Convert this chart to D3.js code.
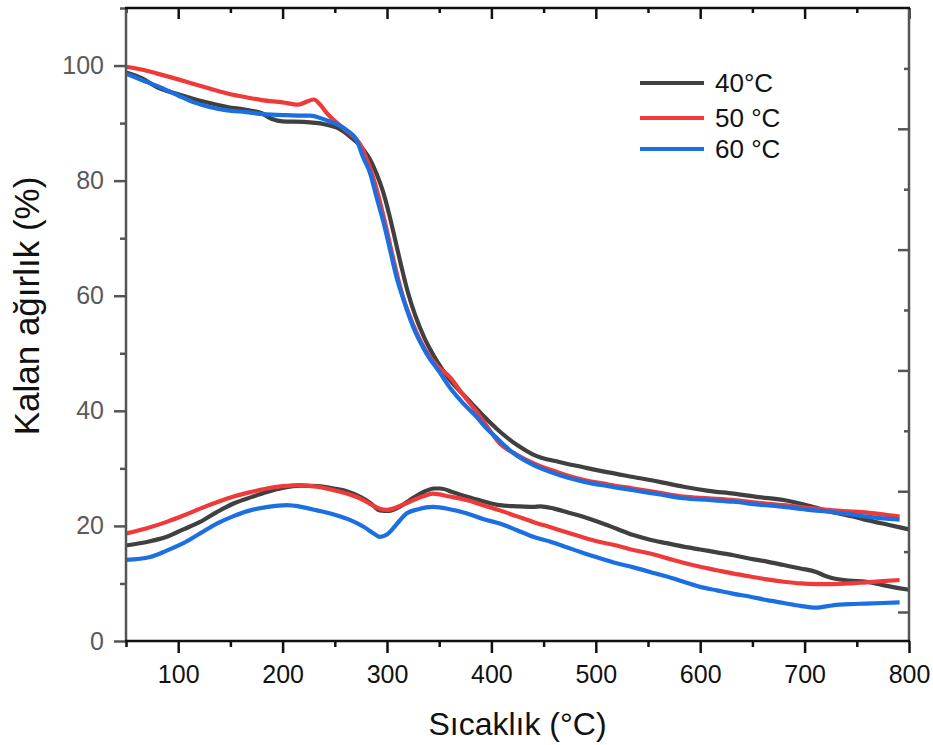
<!DOCTYPE html>
<html><head><meta charset="utf-8">
<script src="https://cdn.jsdelivr.net/npm/d3@7"></script>
<style>body{margin:0;background:#fff}svg{display:block}text{font-family:"Liberation Sans",Arial,sans-serif}</style>
</head><body><svg id="c" width="933" height="745"></svg>
<script>
// Temperature (°C) / remaining weight (%) readings
const tga40 = [[50,98.8],[65,97.8],[80,96.2],[100,95.0],[115,94.2],[130,93.5],[147,92.8],[165,92.3],[180,91.7],[190,90.7],[200,90.3],[220,90.2],[240,89.8],[252,89.2],[265,87.6],[277,85.5],[284,83.6],[290,81.2],[296,78.2],[302,74.2],[308,69.6],[314,64.9],[320,60.6],[327,56.6],[336,52.6],[348,48.6],[360,45.4],[370,43.4],[381,41.3],[393,39.0],[408,36.4],[425,34.0],[440,32.4],[465,31.1],[488,30.2],[512,29.3],[536,28.5],[560,27.7],[584,26.8],[608,26.1],[632,25.6],[656,25.0],[680,24.5],[704,23.5],[727,22.4],[745,21.7],[760,21.0],[780,20.2],[800,19.4]];
const tga50 = [[50,99.8],[65,99.3],[80,98.6],[100,97.6],[115,96.8],[130,96.0],[150,95.0],[165,94.5],[180,94.0],[200,93.6],[215,93.2],[224,93.8],[230,94.1],[236,93.2],[243,91.6],[255,89.6],[265,88.1],[274,86.4],[280,84.0],[286,81.0],[292,77.2],[298,72.8],[304,68.0],[310,63.4],[316,59.4],[325,55.0],[337,50.5],[348,47.8],[360,45.9],[372,43.0],[385,40.0],[395,37.5],[408,34.3],[424,32.4],[440,30.9],[464,29.3],[488,28.0],[512,27.2],[536,26.5],[560,25.8],[584,25.1],[608,24.8],[632,24.5],[656,24.0],[680,23.6],[704,23.1],[727,22.7],[745,22.5],[760,22.3],[775,22.0],[791,21.6]];
const tga60 = [[50,98.6],[65,97.5],[83,96.2],[100,94.8],[115,93.6],[130,92.8],[147,92.2],[165,91.9],[178,91.6],[200,91.4],[217,91.3],[226,91.3],[242,90.5],[252,89.8],[262,88.7],[271,87.0],[277,84.1],[284,81.2],[290,77.1],[297,72.5],[303,67.9],[309,63.3],[316,59.2],[325,54.6],[338,49.9],[350,46.8],[360,44.1],[373,41.3],[386,38.9],[395,37.0],[405,35.3],[420,32.8],[440,30.6],[464,28.9],[488,27.7],[512,26.9],[536,26.2],[560,25.5],[584,24.8],[608,24.5],[632,24.2],[656,23.7],[680,23.3],[704,22.8],[727,22.4],[745,22.0],[760,21.6],[775,21.3],[791,21.1]];
const low40 = [[50,16.6],[70,17.2],[89,18.1],[105,19.4],[121,20.7],[137,22.4],[153,23.9],[170,25.0],[185,25.9],[200,26.6],[217,27.0],[233,26.9],[249,26.5],[262,26.0],[274,25.1],[284,24.0],[293,22.7],[302,22.6],[312,23.3],[322,24.5],[335,25.9],[345,26.5],[351,26.5],[364,25.8],[376,25.1],[392,24.3],[408,23.6],[425,23.4],[440,23.3],[447,23.4],[460,23.0],[474,22.3],[488,21.6],[504,20.6],[520,19.5],[536,18.4],[552,17.6],[568,17.0],[584,16.4],[600,15.9],[616,15.4],[632,14.9],[648,14.3],[664,13.8],[680,13.2],[696,12.6],[711,12.0],[720,11.3],[727,10.9],[743,10.5],[759,10.3],[775,9.7],[790,9.2],[800,8.9]];
const low50 = [[50,18.7],[70,19.6],[89,20.7],[105,21.8],[121,23.0],[137,24.1],[153,25.1],[170,25.9],[185,26.5],[200,26.9],[217,27.1],[233,26.8],[249,26.2],[262,25.6],[274,24.8],[284,23.8],[293,23.0],[300,22.8],[306,23.0],[314,23.6],[322,24.2],[334,25.1],[344,25.6],[360,25.1],[376,24.5],[392,23.6],[408,22.7],[424,21.7],[440,20.7],[456,19.8],[472,18.9],[488,18.0],[504,17.2],[520,16.6],[536,15.8],[552,15.2],[568,14.4],[584,13.6],[600,12.9],[616,12.3],[632,11.7],[648,11.2],[664,10.7],[680,10.3],[696,10.0],[712,9.9],[727,9.9],[743,10.0],[759,10.2],[775,10.4],[791,10.6]];
const low60 = [[50,14.1],[73,14.6],[89,15.7],[105,17.0],[121,18.7],[137,20.4],[153,21.7],[169,22.7],[186,23.3],[204,23.6],[218,23.3],[233,22.7],[249,22.0],[265,21.0],[278,19.8],[288,18.6],[293,18.1],[300,18.5],[306,19.6],[312,20.9],[319,22.2],[330,22.9],[344,23.3],[360,22.9],[376,22.2],[392,21.2],[408,20.4],[424,19.3],[440,18.1],[456,17.3],[472,16.3],[488,15.3],[504,14.4],[520,13.5],[536,12.8],[552,12.0],[568,11.2],[584,10.3],[600,9.4],[616,8.8],[632,8.2],[648,7.7],[664,7.1],[680,6.6],[696,6.1],[711,5.8],[727,6.2],[743,6.4],[759,6.5],[775,6.6],[791,6.7]];

const legendLabels = ["40°C", "50 °C", "60 °C"];
const seriesColors = ["#404040", "#f03a3a", "#1c6fe0"];
const xTicks = [100, 200, 300, 400, 500, 600, 700, 800];
const yTicks = [0, 20, 40, 60, 80, 100];
const xTitle = "Sıcaklık (°C)";
const yTitle = "Kalan ağırlık (%)";

const svg = d3.select("#c");
const L = 126, R = 909, T = 8, B = 641;
const x = d3.scaleLinear().domain([50, 800]).range([L, R]);
const y = d3.scaleLinear().domain([0, 110]).range([B, T]);
const yR = d3.scaleLinear().domain([-0.48, 10]).range([B, T]);

const line = d3.line().x(d => x(d[0])).y(d => y(d[1])).curve(d3.curveMonotoneX);
const groups = [[tga40, low40], [tga50, low50], [tga60, low60]];
groups.forEach((g, i) => {
  g.forEach(s => {
    svg.append("path").datum(s).attr("d", line).attr("fill", "none")
      .attr("stroke", seriesColors[i]).attr("stroke-width", 4.2).attr("stroke-linejoin", "round");
  });
});

// axes
const minorX = d3.range(50, 801, 50).filter(v => v % 100 !== 0);
const minorY = d3.range(10, 111, 20);
function styleAxis(g, col) {
  g.selectAll(".domain").remove();
  g.selectAll(".tick line").attr("stroke", col).attr("stroke-width", 2.5);
}
const bx = svg.append("g").attr("transform", `translate(0,${B})`)
  .call(d3.axisBottom(x).tickValues(xTicks).tickSize(12).tickPadding(12));
styleAxis(bx, "#111");
bx.selectAll("text").attr("font-size", 25).attr("fill", "#111");
const bxm = svg.append("g").attr("transform", `translate(0,${B})`)
  .call(d3.axisBottom(x).tickValues(minorX).tickSize(6).tickFormat(""));
styleAxis(bxm, "#111");
const tx = svg.append("g").attr("transform", `translate(0,${T})`)
  .call(d3.axisBottom(x).tickValues(xTicks).tickSize(11).tickFormat(""));
styleAxis(tx, "#111");
const txm = svg.append("g").attr("transform", `translate(0,${T})`)
  .call(d3.axisBottom(x).tickValues(minorX).tickSize(5).tickFormat(""));
styleAxis(txm, "#111");

const ly = svg.append("g").attr("transform", `translate(${L},0)`)
  .call(d3.axisLeft(y).tickValues(yTicks).tickSize(12).tickPadding(10));
styleAxis(ly, "#555");
ly.selectAll("text").attr("font-size", 25).attr("fill", "#5a5a5a");
const lym = svg.append("g").attr("transform", `translate(${L},0)`)
  .call(d3.axisLeft(y).tickValues(minorY).tickSize(6).tickFormat(""));
styleAxis(lym, "#555");
const ry = svg.append("g").attr("transform", `translate(${R},0)`)
  .call(d3.axisLeft(yR).tickValues([0, 2, 4, 6, 8]).tickSize(11).tickFormat(""));
styleAxis(ry, "#555");
const rym = svg.append("g").attr("transform", `translate(${R},0)`)
  .call(d3.axisLeft(yR).tickValues([1, 3, 5, 7, 9]).tickSize(5).tickFormat(""));
styleAxis(rym, "#555");

// frame lines
svg.append("line").attr("x1", L).attr("x2", L).attr("y1", T).attr("y2", B + 1).attr("stroke", "#555").attr("stroke-width", 2.5);
svg.append("line").attr("x1", R).attr("x2", R).attr("y1", T).attr("y2", B + 1).attr("stroke", "#555").attr("stroke-width", 2.5);
svg.append("line").attr("x1", L - 1).attr("x2", R + 1).attr("y1", B).attr("y2", B).attr("stroke", "#111").attr("stroke-width", 2.5);
svg.append("line").attr("x1", L - 1).attr("x2", R + 1).attr("y1", T).attr("y2", T).attr("stroke", "#111").attr("stroke-width", 2.5);

// titles
svg.append("text").attr("x", (L + R) / 2).attr("y", 735).attr("text-anchor", "middle")
  .attr("font-size", 32).attr("fill", "#111").text(xTitle);
svg.append("text").attr("transform", "translate(39,306) rotate(-90)").attr("text-anchor", "middle")
  .attr("font-size", 35).attr("fill", "#111").text(yTitle);

// legend
const legY = [83, 118, 149];
legendLabels.forEach((lab, i) => {
  svg.append("line").attr("x1", 640).attr("x2", 704).attr("y1", legY[i]).attr("y2", legY[i])
    .attr("stroke", seriesColors[i]).attr("stroke-width", 4.2);
  svg.append("text").attr("x", 715).attr("y", legY[i] + 9).attr("font-size", 26).attr("fill", "#111").text(lab);
});
</script></body></html>
